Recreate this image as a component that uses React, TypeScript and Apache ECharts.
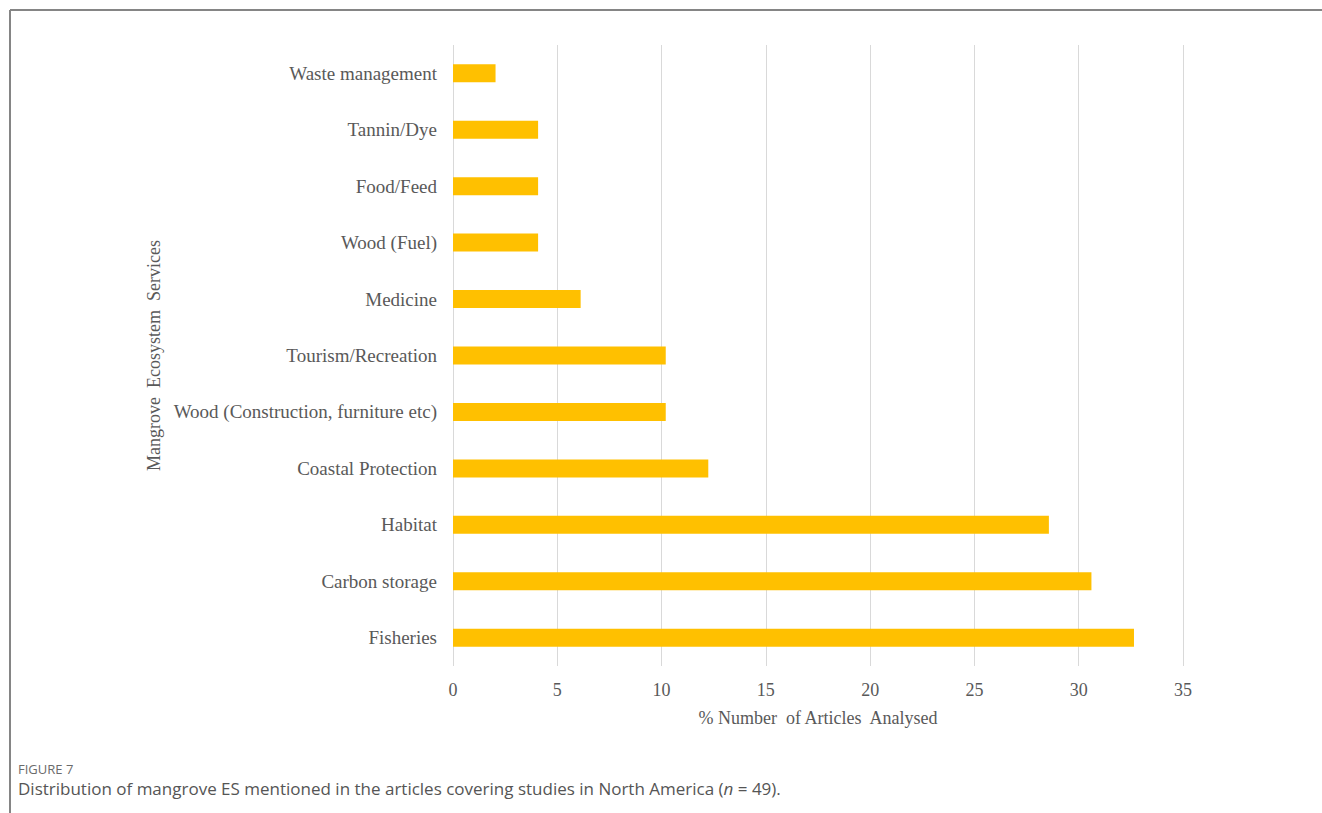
import React, { useEffect, useRef } from "react";
import * as echarts from "echarts";

const categories = [
  "Waste management",
  "Tannin/Dye",
  "Food/Feed",
  "Wood (Fuel)",
  "Medicine",
  "Tourism/Recreation",
  "Wood (Construction, furniture etc)",
  "Coastal Protection",
  "Habitat",
  "Carbon storage",
  "Fisheries",
];
const values = [2.04, 4.08, 4.08, 4.08, 6.12, 10.2, 10.2, 12.24, 28.57, 30.61, 32.65];
const xTicks = [0, 5, 10, 15, 20, 25, 30, 35];
const xAxisTitle = "% Number  of Articles  Analysed";
const yAxisTitle = "Mangrove  Ecosystem  Services";
const figureLabel = "FIGURE 7";
const captionText = "Distribution of mangrove ES mentioned in the articles covering studies in North America (";
const captionTail = " = 49).";

export default function App() {
  const ref = useRef<HTMLDivElement>(null);
  useEffect(() => {
    if (!ref.current) return;
    const chart = echarts.init(ref.current, undefined, { renderer: "svg" });
    const serif = "'Liberation Serif', 'Times New Roman', serif";
    const sans = "'Open Sans', 'Noto Sans', sans-serif";
    chart.setOption({
      animation: false,
      backgroundColor: "#ffffff",
      grid: { left: 453, right: 139, top: 45, bottom: 147, containLabel: false },
      xAxis: {
        type: "value",
        min: xTicks[0],
        max: xTicks[xTicks.length - 1],
        interval: 5,
        axisLine: { show: false },
        axisTick: { show: false },
        splitLine: { show: true, lineStyle: { color: "#d9d9d9", width: 1 } },
        axisLabel: { color: "#595959", fontFamily: serif, fontSize: 18, margin: 15 },
        name: xAxisTitle,
        nameLocation: "middle",
        nameGap: 43,
        nameTextStyle: { color: "#595959", fontFamily: serif, fontSize: 18 },
      },
      yAxis: {
        type: "category",
        data: categories,
        inverse: true,
        axisLine: { show: false },
        axisTick: { show: false },
        splitLine: { show: false },
        axisLabel: { color: "#595959", fontFamily: serif, fontSize: 19, margin: 16 },
        name: yAxisTitle,
        nameLocation: "middle",
        nameGap: 286,
        nameRotate: 90,
        nameTextStyle: { color: "#595959", fontFamily: serif, fontSize: 18 },
      },
      series: [
        {
          type: "bar",
          data: values,
          barWidth: 18,
          itemStyle: { color: "#ffc000" },
        },
      ],
      graphic: [
        {
          type: "line",
          shape: { x1: 10, y1: 10, x2: 1322, y2: 10 },
          style: { stroke: "#858585", lineWidth: 2 },
        },
        {
          type: "line",
          shape: { x1: 10, y1: 10, x2: 10, y2: 813 },
          style: { stroke: "#858585", lineWidth: 2 },
        },
        {
          type: "text",
          left: 18,
          top: 762,
          style: {
            text: figureLabel,
            fill: "#6b6b6b",
            font: "13px " + sans,
          },
        },
        {
          type: "text",
          left: 18,
          top: 780,
          style: {
            text: "{a|" + captionText + "}{i|n}{a|" + captionTail + "}",
            rich: {
              a: { fill: "#555555", fontFamily: sans, fontSize: 17 },
              i: { fill: "#555555", fontFamily: sans, fontSize: 17, fontStyle: "italic" },
            },
          },
        },
      ],
    });
    return () => chart.dispose();
  }, []);
  return (
    <div
      ref={ref}
      style={{ position: "fixed", left: 0, top: 0, width: 1322, height: 813 }}
    />
  );
}
